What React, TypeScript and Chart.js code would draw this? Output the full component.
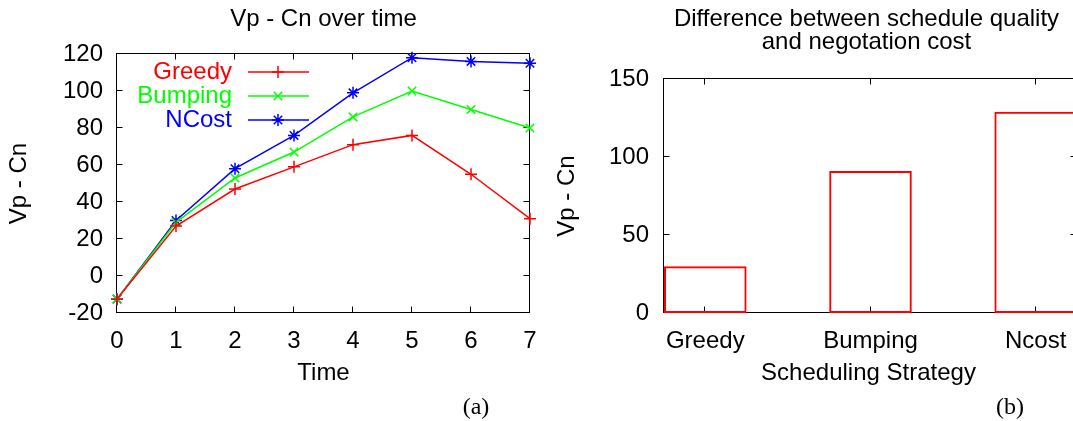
import React, { useEffect, useRef } from "react";
import { Chart, registerables } from "chart.js";

Chart.register(...registerables);

const FONT = '"Liberation Sans", Arial, Helvetica, sans-serif';
const SERIF = '"Liberation Serif", "Times New Roman", serif';

// ---- Left chart data ----
const timeSteps = [0, 1, 2, 3, 4, 5, 6, 7];
const greedyValues = [-12.5, 27, 47, 59, 71, 76, 55, 31];
const bumpingValues = [-12.5, 29, 53, 67, 86, 100, 90, 80];
const ncostValues = [-12.5, 30, 58, 76, 99, 118, 116, 115];
const seriesLabels = ["Greedy", "Bumping", "NCost"];
const seriesColors = ["#ff0000", "#00ff00", "#0000ff"];
const seriesMarkers = ["cross", "crossRot", "star"];
const leftTitle = "Vp - Cn over time";
const leftXTitle = "Time";
const leftYTitle = "Vp - Cn";

// ---- Right chart data ----
const strategyLabels = ["Greedy", "Bumping", "Ncost"];
const strategyValues = [30, 91, 129];
const rightTitle = ["Difference between schedule quality", "and negotation cost"];
const rightXTitle = "Scheduling Strategy";
const rightYTitle = "Vp - Cn";

const FS = 24;
const TICK_FONT = { family: FONT, size: FS };

function drawMarker(ctx: CanvasRenderingContext2D, style: string, x: number, y: number, r: number) {
  ctx.beginPath();
  if (style === "cross" || style === "star") {
    ctx.moveTo(x - r, y);
    ctx.lineTo(x + r, y);
    ctx.moveTo(x, y - r);
    ctx.lineTo(x, y + r);
  }
  if (style === "crossRot" || style === "star") {
    const d = r * Math.SQRT1_2;
    ctx.moveTo(x - d, y - d);
    ctx.lineTo(x + d, y + d);
    ctx.moveTo(x - d, y + d);
    ctx.lineTo(x + d, y - d);
  }
  ctx.stroke();
}

function drawText(
  ctx: CanvasRenderingContext2D,
  text: string,
  x: number,
  y: number,
  font: string,
  color = "#000",
  align: CanvasTextAlign = "center",
  rotate = 0
) {
  ctx.save();
  ctx.translate(x, y);
  if (rotate) ctx.rotate(rotate);
  ctx.font = font;
  ctx.fillStyle = color;
  ctx.textAlign = align;
  ctx.textBaseline = "middle";
  ctx.fillText(text, 0, 0);
  ctx.restore();
}

function drawFrameAndTicks(chart: any) {
  const { ctx, chartArea: a, scales } = chart;
  const L = 6;
  ctx.save();
  ctx.strokeStyle = "#000";
  ctx.lineWidth = 1;
  const l = Math.round(a.left) - 0.5;
  const r = Math.round(a.right) - 0.5;
  const t = Math.round(a.top) - 0.5;
  const b = Math.round(a.bottom) - 0.5;
  ctx.strokeRect(l, t, r - l, b - t);
  ctx.beginPath();
  scales.x.ticks.forEach((tk: any) => {
    const px = Math.round(scales.x.getPixelForValue(tk.value)) - 0.5;
    ctx.moveTo(px, b);
    ctx.lineTo(px, b - L);
    ctx.moveTo(px, t);
    ctx.lineTo(px, t + L);
  });
  scales.y.ticks.forEach((tk: any) => {
    const py = Math.round(scales.y.getPixelForValue(tk.value)) - 0.5;
    ctx.moveTo(l, py);
    ctx.lineTo(l + L, py);
    ctx.moveTo(r, py);
    ctx.lineTo(r - L, py);
  });
  ctx.stroke();
  ctx.restore();
}

const leftDecor = {
  id: "leftDecor",
  beforeDatasetsDraw(chart: any) {
    drawFrameAndTicks(chart);
  },
  afterDatasetsDraw(chart: any) {
    const { ctx, chartArea: a } = chart;
    const f = `${FS}px ${FONT}`;
    chart.data.datasets.forEach((ds: any, i: number) => {
      const y = a.top + 18 + i * 24;
      drawText(ctx, ds.label, a.left + 115, y, f, ds.borderColor, "right");
      ctx.save();
      ctx.strokeStyle = ds.borderColor;
      ctx.lineWidth = 1.5;
      ctx.beginPath();
      ctx.moveTo(a.left + 131, y);
      ctx.lineTo(a.left + 192, y);
      ctx.stroke();
      drawMarker(ctx, ds.pointStyle, a.left + 161, y, 6);
      ctx.restore();
    });
  },
  afterDraw(chart: any) {
    const { ctx, chartArea: a } = chart;
    const f = `${FS}px ${FONT}`;
    const cx = (a.left + a.right) / 2;
    drawText(ctx, leftTitle, cx, 19, f);
    drawText(ctx, leftXTitle, cx, 373, f);
    drawText(ctx, leftYTitle, 19, (a.top + a.bottom) / 2, f, "#000", "center", -Math.PI / 2);
    drawText(ctx, "(a)", 476, 408, `24px ${SERIF}`);
  },
};

const rightDecor = {
  id: "rightDecor",
  beforeDatasetsDraw(chart: any) {
    drawFrameAndTicks(chart);
  },
  afterDraw(chart: any) {
    const { ctx, chartArea: a } = chart;
    const f = `${FS}px ${FONT}`;
    const cx = (a.left + a.right) / 2;
    drawText(ctx, rightTitle[0], cx - 4, 19, f);
    drawText(ctx, rightTitle[1], cx - 4, 42, f);
    drawText(ctx, rightXTitle, cx - 2, 373, f);
    drawText(ctx, rightYTitle, 27, (a.top + a.bottom) / 2, f, "#000", "center", -Math.PI / 2);
    drawText(ctx, "(b)", 470, 408, `24px ${SERIF}`);
  },
};

export default function App() {
  const leftRef = useRef<HTMLCanvasElement>(null);
  const rightRef = useRef<HTMLCanvasElement>(null);

  useEffect(() => {
    const seriesValues = [greedyValues, bumpingValues, ncostValues];
    const left = new Chart(leftRef.current as HTMLCanvasElement, {
      type: "line",
      data: {
        datasets: seriesValues.map((vals, i) => ({
          label: seriesLabels[i],
          data: timeSteps.map((t, j) => ({ x: t, y: vals[j] })),
          borderColor: seriesColors[i],
          backgroundColor: seriesColors[i],
          pointBorderColor: seriesColors[i],
          pointStyle: seriesMarkers[i] as any,
          pointRadius: 6,
          pointHoverRadius: 6,
          pointBorderWidth: 1.5,
          borderWidth: 1.5,
          tension: 0,
          fill: false,
          clip: false as any,
        })),
      },
      options: {
        responsive: false,
        animation: false,
        events: [],
        layout: { padding: { left: 0, top: 54, right: 30, bottom: 0 } },
        plugins: { legend: { display: false }, title: { display: false }, tooltip: { enabled: false } },
        scales: {
          x: {
            type: "linear",
            min: 0,
            max: 7,
            ticks: { stepSize: 1, padding: 14, font: TICK_FONT, color: "#000", maxRotation: 0 },
            grid: { display: false, drawTicks: false },
            border: { display: false },
            afterFit: (s: any) => {
              s.height = 108;
            },
          },
          y: {
            type: "linear",
            min: -20,
            max: 120,
            ticks: { stepSize: 20, padding: 14, font: TICK_FONT, color: "#000" },
            grid: { display: false, drawTicks: false },
            border: { display: false },
            afterFit: (s: any) => {
              s.width = 117;
            },
          },
        },
      },
      plugins: [leftDecor],
    });

    const right = new Chart(rightRef.current as HTMLCanvasElement, {
      type: "bar",
      data: {
        datasets: [
          {
            label: rightYTitle,
            data: strategyLabels.map((_, i) => ({ x: i, y: strategyValues[i] })),
            borderColor: "#ff0000",
            backgroundColor: "rgba(255,255,255,0)",
            borderWidth: 2,
            borderSkipped: false,
            categoryPercentage: 0.5,
            barPercentage: 1,
          },
        ],
      },
      options: {
        responsive: false,
        animation: false,
        events: [],
        layout: { padding: { left: 0, top: 79, right: 13, bottom: 0 } },
        plugins: { legend: { display: false }, title: { display: false }, tooltip: { enabled: false } },
        scales: {
          x: {
            type: "linear",
            min: -0.25,
            max: 2.25,
            offset: false,
            afterBuildTicks: (s: any) => {
              s.ticks = strategyLabels.map((_, i) => ({ value: i }));
            },
            ticks: {
              padding: 14,
              font: TICK_FONT,
              color: "#000",
              maxRotation: 0,
              autoSkip: false,
              callback: (v: any) => strategyLabels[Math.round(Number(v))] ?? "",
            },
            grid: { display: false, drawTicks: false },
            border: { display: false },
            afterFit: (s: any) => {
              s.height = 108;
            },
          },
          y: {
            type: "linear",
            min: 0,
            max: 150,
            ticks: { stepSize: 50, padding: 15, font: TICK_FONT, color: "#000" },
            grid: { display: false, drawTicks: false },
            border: { display: false },
            afterFit: (s: any) => {
              s.width = 124;
            },
          },
        },
      },
      plugins: [rightDecor],
    });

    return () => {
      left.destroy();
      right.destroy();
    };
  }, []);

  return (
    <div
      style={{
        position: "absolute",
        left: 0,
        top: 0,
        width: 1073,
        height: 421,
        overflow: "hidden",
        background: "#fff",
      }}
    >
      <canvas
        ref={leftRef}
        width={560}
        height={421}
        style={{ position: "absolute", left: 0, top: 0, width: 560, height: 421, display: "block" }}
      />
      <canvas
        ref={rightRef}
        width={550}
        height={421}
        style={{ position: "absolute", left: 540, top: 0, width: 550, height: 421, display: "block" }}
      />
    </div>
  );
}
